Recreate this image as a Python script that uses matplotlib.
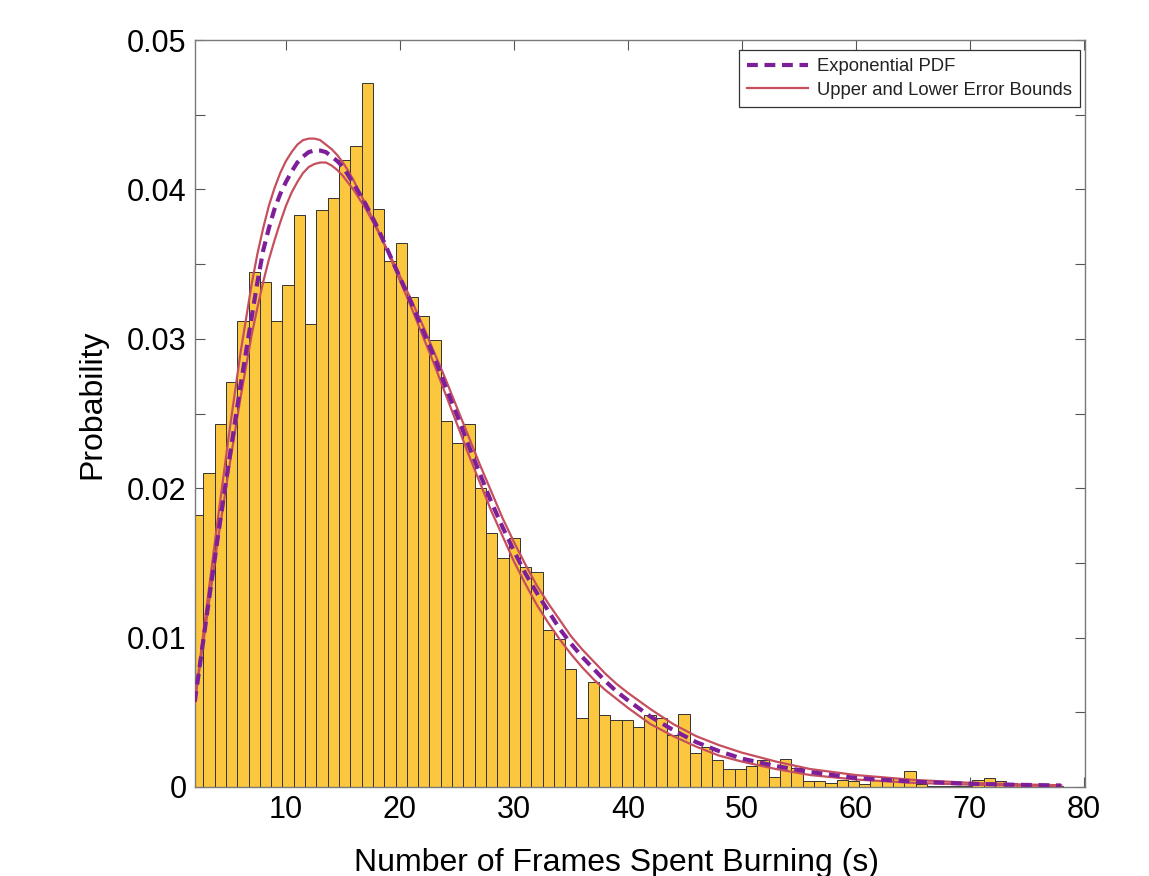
import numpy as np
import matplotlib
matplotlib.use("Agg")
import matplotlib.pyplot as plt

plt.rcParams['font.family'] = ['Liberation Sans', 'DejaVu Sans']

# ---------------- data ----------------
# histogram (probability per bin), bins of width ~0.992 starting at 1.76
bin_start = 1.76
bin_width = 0.992
bar_heights = [
    0.0182, 0.0210, 0.0243, 0.0271, 0.0312, 0.0345, 0.0338, 0.0312, 0.0336, 0.0383,
    0.0310, 0.0386, 0.0394, 0.0420, 0.0429, 0.0471, 0.0387, 0.0352, 0.0364, 0.0328,
    0.0315, 0.0299, 0.0245, 0.0230, 0.0243, 0.0200, 0.0170, 0.0153, 0.0167, 0.0147,
    0.0144, 0.0105, 0.0099, 0.0079, 0.0046, 0.0070, 0.0048, 0.0045, 0.0045, 0.0040,
    0.0048, 0.0046, 0.0035, 0.0049, 0.0023, 0.0027, 0.0018, 0.0012, 0.0012, 0.0014,
    0.0018, 0.0007, 0.0019, 0.0013, 0.0004, 0.0004, 0.0003, 0.0005, 0.0004, 0.0002,
    0.0005, 0.0007, 0.0006, 0.0011, 0.0002, 0.0001, 0.0001, 0.0001, 0.0001, 0.0005,
    0.0006, 0.0004, 0.0003, 0.0002, 0.0002, 0.0001, 0.0001,
]

curve_x = [2, 3, 4, 5, 6, 7, 7.5, 8, 8.5, 9, 9.5, 10, 10.5, 11, 11.5, 12, 12.5,
           13, 13.5, 14, 14.5, 15, 15.5, 16, 17, 18, 19, 20,
           21, 22, 23, 24, 25, 26, 27, 28, 29, 30, 31, 32, 33, 34, 35, 36, 37,
           38, 39, 40, 42, 44, 46, 48, 50, 53, 56, 60, 65, 70, 74, 78]

pdf_y = [0.0057, 0.0112, 0.0166, 0.0218, 0.0268, 0.0315, 0.0338, 0.0359, 0.0374,
         0.0387, 0.0397, 0.0405, 0.0412, 0.0418, 0.0422, 0.0425, 0.0426, 0.0426,
         0.0425, 0.0422, 0.0419, 0.0415, 0.0409, 0.0403, 0.0390, 0.0375, 0.0358,
         0.0341, 0.0324, 0.0306, 0.0288, 0.0268, 0.0249, 0.0229, 0.0210, 0.0191,
         0.0174, 0.0158, 0.0143, 0.0130, 0.0118, 0.0106, 0.0096, 0.0087, 0.0079,
         0.0071, 0.0064, 0.0058, 0.0047, 0.0038, 0.0030, 0.0024, 0.0019, 0.0014,
         0.0010, 0.0006, 0.00036, 0.00022, 0.00015, 0.00010]

bound_a_y = [0.0057, 0.0118, 0.0178, 0.0236, 0.0290, 0.0337, 0.0357, 0.0374, 0.0389,
             0.0401, 0.0411, 0.0419, 0.0425, 0.0430, 0.0433, 0.0434, 0.0434, 0.0433,
             0.0430, 0.0427, 0.0423, 0.0418, 0.0412, 0.0405, 0.0390, 0.0374, 0.0357,
             0.0339, 0.0321, 0.0302, 0.0283, 0.0263, 0.0243, 0.0223, 0.0204, 0.0185,
             0.0168, 0.0151, 0.0136, 0.0122, 0.0110, 0.0099, 0.0089, 0.0080, 0.0072,
             0.0065, 0.0059, 0.0053, 0.0042, 0.0034, 0.0027, 0.0021, 0.0017, 0.0012,
             0.0008, 0.0005, 0.00028, 0.00016, 0.00010, 0.00007]

bound_b_y = [0.0057, 0.0110, 0.0164, 0.0213, 0.0260, 0.0303, 0.0321, 0.0338, 0.0353,
             0.0366, 0.0378, 0.0389, 0.0398, 0.0405, 0.0411, 0.0415, 0.0417, 0.0418,
             0.0418, 0.0416, 0.0413, 0.0409, 0.0404, 0.0399, 0.0387, 0.0373, 0.0358,
             0.0342, 0.0326, 0.0309, 0.0291, 0.0273, 0.0254, 0.0235, 0.0216, 0.0198,
             0.0180, 0.0164, 0.0149, 0.0135, 0.0123, 0.0112, 0.0101, 0.0092, 0.0084,
             0.0076, 0.0069, 0.0063, 0.0052, 0.0042, 0.0034, 0.0028, 0.0023, 0.0017,
             0.0012, 0.0008, 0.00048, 0.00028, 0.00018, 0.00012]

x_ticks = [10, 20, 30, 40, 50, 60, 70, 80]
y_ticks = [0, 0.005, 0.01, 0.015, 0.02, 0.025, 0.03, 0.035, 0.04, 0.045, 0.05]
y_tick_labels = ['0', '', '0.01', '', '0.02', '', '0.03', '', '0.04', '', '0.05']

# ---------------- figure ----------------
W, H = 1149, 876
fig = plt.figure(figsize=(W / 100, H / 100), dpi=100)
ax = fig.add_axes([195 / W, 1 - 787 / H, (1085 - 195) / W, (787 - 40) / H])

edges = bin_start + bin_width * np.arange(len(bar_heights))
ax.bar(edges, bar_heights, width=bin_width, align='edge',
       color='#FBC73E', edgecolor='#333333', linewidth=0.7, zorder=2)

red = '#C64F5E'
ax.plot(curve_x, bound_a_y, color=red, lw=1.6, zorder=3,
        label='Upper and Lower Error Bounds', solid_joinstyle='round')
ax.plot(curve_x, bound_b_y, color=red, lw=1.6, zorder=3, solid_joinstyle='round')
ax.plot(curve_x, pdf_y, color='#7E1F9A', lw=3.0, ls=(0, (2.6, 1.6)), zorder=4,
        label='Exponential PDF')

ax.set_xlim(2.02, 80.1)
ax.set_ylim(0, 0.05)
ax.set_xticks(x_ticks)
ax.set_yticks(y_ticks)
ax.set_yticklabels(y_tick_labels)

ax.tick_params(axis='both', which='major', direction='in', length=7, width=0.8,
               top=True, right=True, labelsize=22, color='#555555', pad=6)
for s in ax.spines.values():
    s.set_color('#7a7a7a')
    s.set_linewidth(1.0)

ax.set_xlabel('Number of Frames Spent Burning (s)', fontsize=23)
ax.set_ylabel('Probability', fontsize=23)
ax.xaxis.set_label_coords(0.474, -0.081)
ax.yaxis.set_label_coords(-0.098, 0.513)

handles, labels = ax.get_legend_handles_labels()
order = [1, 0]
leg = ax.legend([handles[i] for i in order], [labels[i] for i in order],
                loc='upper right', bbox_to_anchor=(0.9944, 0.9866), borderaxespad=0,
                fontsize=13.3, fancybox=False, framealpha=1, edgecolor='#333333',
                handlelength=3.3, borderpad=0.45, labelspacing=0.35, handletextpad=0.45)
leg.get_frame().set_linewidth(0.9)
for t in leg.get_texts():
    t.set_color('#222222')

fig.savefig('out.png', dpi=100)
